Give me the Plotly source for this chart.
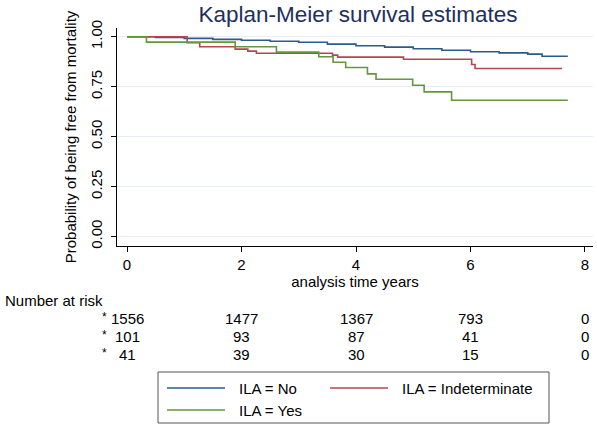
import plotly.graph_objects as go

# ---- data ----
no_t = [0, 0.5, 1.0, 1.5, 2.0, 2.5, 3.0, 3.5, 4.0, 4.5, 5.0, 5.5, 6.0, 6.5, 7.0, 7.25, 7.7]
no_s = [1.0, 0.997, 0.992, 0.987, 0.982, 0.977, 0.972, 0.963, 0.955, 0.948, 0.940, 0.932, 0.925, 0.919, 0.913, 0.902, 0.902]

ind_t = [0, 1.05, 1.27, 1.89, 2.11, 2.26, 3.59, 3.68, 4.83, 6.02, 6.08, 7.6]
ind_s = [1.0, 0.97, 0.95, 0.938, 0.928, 0.917, 0.908, 0.898, 0.887, 0.861, 0.841, 0.841]

yes_t = [0, 0.34, 1.89, 2.61, 3.35, 3.6, 3.82, 4.2, 4.35, 4.99, 5.19, 5.67, 7.7]
yes_s = [1.0, 0.973, 0.95, 0.923, 0.90, 0.872, 0.846, 0.814, 0.787, 0.757, 0.724, 0.682, 0.682]

group_names = ["ILA = No", "ILA = Indeterminate", "ILA = Yes"]

risk_times = [0, 2, 4, 6, 8]
risk_no = [1556, 1477, 1367, 793, 0]
risk_ind = [101, 93, 87, 41, 0]
risk_yes = [41, 39, 30, 15, 0]

x_ticks = [0, 2, 4, 6, 8]
y_ticks = [0, 0.25, 0.5, 0.75, 1.0]
y_ticklabels = ["0.00", "0.25", "0.50", "0.75", "1.00"]

FONT = "Liberation Sans, Arial, Helvetica, sans-serif"
colors = ["#2d5a8a", "#b5464f", "#66953f"]

fig = go.Figure()
for name, t, s, c in zip(group_names, [no_t, ind_t, yes_t], [no_s, ind_s, yes_s], colors):
    fig.add_trace(go.Scatter(x=t, y=s, mode="lines", name=name, showlegend=False,
                             line=dict(color=c, width=1.6, shape="hv")))

# figure geometry (pixels)
W, H = 597, 426
L, R, T, B = 117, 4, 28, 180
plot_w = W - L - R
plot_h = H - T - B

def px(pix):
    return (pix - L) / plot_w

def py(pix):
    return (H - B - pix) / plot_h

ann = []
shapes = []
ann.append(dict(text="Number at risk", xref="paper", yref="paper",
                x=px(3), y=py(300), xanchor="left", yanchor="middle",
                showarrow=False, font=dict(size=15, color="black", family=FONT)))
row_pix = [318, 336, 354]
for vals, rp in zip([risk_no, risk_ind, risk_yes], row_pix):
    ann.append(dict(text="*", xref="paper", yref="paper", x=px(104), y=py(rp - 1),
                    xanchor="center", yanchor="middle", showarrow=False,
                    font=dict(size=12, color="black", family=FONT)))
    for t, v in zip(risk_times, vals):
        ann.append(dict(text=str(v), xref="x", yref="paper", x=t, y=py(rp),
                        xanchor="center", yanchor="middle", showarrow=False,
                        font=dict(size=15, color="black", family=FONT)))

# legend box (Stata style, two columns)
shapes.append(dict(type="rect", xref="paper", yref="paper",
                   x0=px(158), x1=px(549), y0=py(423), y1=py(372),
                   line=dict(color="#555555", width=1), fillcolor="white", layer="above"))
leg_pos = [(167, 388), (330, 388), (167, 410)]
for name, c, (lx, ly) in zip(group_names, colors, leg_pos):
    shapes.append(dict(type="line", xref="paper", yref="paper",
                       x0=px(lx), x1=px(lx + 58), y0=py(ly), y1=py(ly),
                       line=dict(color=c, width=1.6), layer="above"))
    ann.append(dict(text=name, xref="paper", yref="paper", x=px(lx + 70), y=py(ly),
                    xanchor="left", yanchor="middle", showarrow=False,
                    font=dict(size=15, color="black", family=FONT)))

fig.update_layout(
    width=W, height=H,
    margin=dict(l=L, r=R, t=T, b=B, pad=0, autoexpand=False),
    paper_bgcolor="white", plot_bgcolor="white",
    font=dict(family=FONT, size=15, color="black"),
    title=dict(text="Kaplan-Meier survival estimates", x=358 / W, xanchor="center",
               y=1 - 14 / H, yanchor="middle",
               font=dict(size=22.5, color="#1e2f5e", family=FONT)),
    xaxis=dict(range=[-0.175, 8.14], tickvals=x_ticks, showgrid=False, zeroline=False,
               showline=True, linecolor="black", linewidth=1,
               ticks="outside", ticklen=5, tickcolor="black",
               tickfont=dict(size=15), ticklabelstandoff=0,
               title=dict(text="analysis time years", standoff=4, font=dict(size=15))),
    yaxis=dict(range=[-0.0477, 1.0437], tickvals=y_ticks, ticktext=y_ticklabels,
               tickangle=-90, showgrid=True, gridcolor="#e6eff4", gridwidth=1,
               zeroline=False, showline=True, linecolor="black", linewidth=1,
               ticks="outside", ticklen=5, tickcolor="black",
               tickfont=dict(size=15), ticklabelstandoff=3,
               title=dict(text="Probability of being free from mortality", standoff=7,
                          font=dict(size=15))),
    annotations=ann,
    shapes=shapes,
    showlegend=False,
)

fig.write_html("out.html", config={"displayModeBar": False},
               post_script="document.body.style.margin='0';")
